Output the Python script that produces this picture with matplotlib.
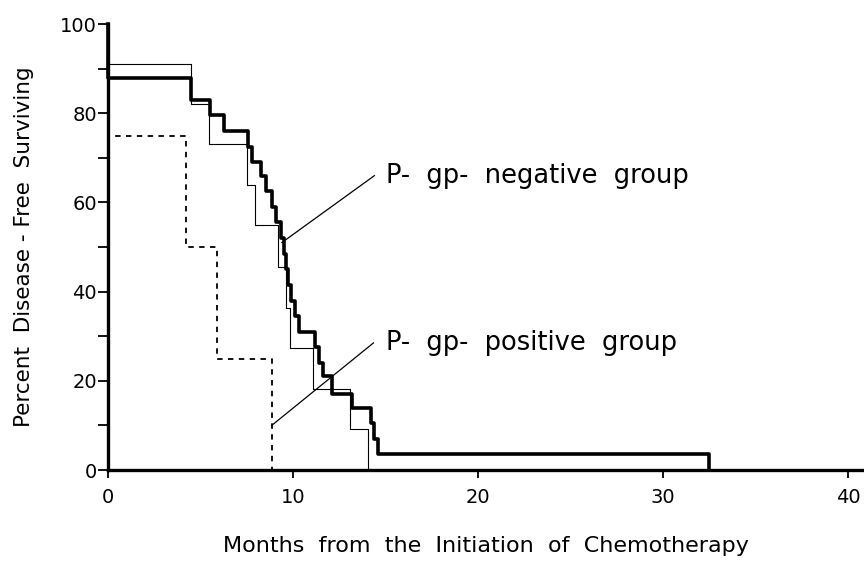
import matplotlib
matplotlib.use("Agg")
import matplotlib.pyplot as plt
from matplotlib.ticker import MultipleLocator

plt.rcParams['font.family'] = ['DejaVu Sans']

# Kaplan-Meier style step curves (month where step starts, percent after it)
neg_t = [0, 0, 4.5, 5.5, 6.25, 7.55, 7.8, 8.25, 8.55, 8.85, 9.1, 9.35, 9.5, 9.6,
         9.75, 9.9, 10.1, 10.3, 11.2, 11.4, 11.6, 12.1, 13.2, 14.2, 14.4, 14.6, 32.5]
neg_v = [100, 88, 83, 79.5, 76, 72.5, 69, 66, 62.5, 59, 55.5, 52, 48.5, 45,
         41.5, 38, 34.5, 31, 27.5, 24, 21, 17, 14, 10.5, 7, 3.5, 0]

thin_t = [0, 0, 4.5, 5.45, 7.5, 7.95, 9.2, 9.6, 9.85, 11.1, 13.1, 14.05]
thin_v = [100, 91, 82, 73, 64, 55, 45.5, 36.4, 27.3, 18.2, 9.1, 0]

pos_t = [0, 0, 4.2, 5.9, 8.85]
pos_v = [100, 75, 50, 25, 0]

xticks = [0, 10, 20, 30, 40]
yticks = [0, 20, 40, 60, 80, 100]

fig = plt.figure(figsize=(8.64, 5.66), dpi=100)
ax = fig.add_axes([108/864, 1-470/566, 1-108/864, (470-24)/566])

ax.step(pos_t, pos_v, where='post', color='black', lw=1.3, ls=(0, (3, 3)), clip_on=False)
ax.step(thin_t, thin_v, where='post', color='black', lw=0.8, clip_on=False)
ax.step(neg_t, neg_v, where='post', color='black', lw=2.6, clip_on=False)

# pointer lines to the group labels
ax.plot([9.4, 14.4], [51, 66], color='black', lw=0.9)
ax.plot([8.85, 14.35], [10, 28.5], color='black', lw=0.9)
ax.text(15.0, 66, 'P-  gp-  negative  group', fontsize=18.5, va='center', ha='left')
ax.text(15.0, 28.5, 'P-  gp-  positive  group', fontsize=18.5, va='center', ha='left')

ax.set_xlim(0, (864-108)/18.5)
ax.set_ylim(0, 100)
ax.set_xticks(xticks)
ax.set_yticks(yticks)
ax.yaxis.set_minor_locator(MultipleLocator(10))
for s in ['top', 'right']:
    ax.spines[s].set_visible(False)
for s in ['left', 'bottom']:
    ax.spines[s].set_linewidth(2.4)
ax.spines['left'].set_bounds(0, 100)
ax.tick_params(which='both', direction='out', length=7, width=1.3, labelsize=14, pad=1)
ax.tick_params(axis='x', length=6, pad=7)

ax.set_xlabel('Months  from  the  Initiation  of  Chemotherapy', fontsize=16, labelpad=21)
ax.set_ylabel('Percent  Disease - Free  Surviving', fontsize=15.5, labelpad=19)

fig.savefig('out.png', dpi=100)
